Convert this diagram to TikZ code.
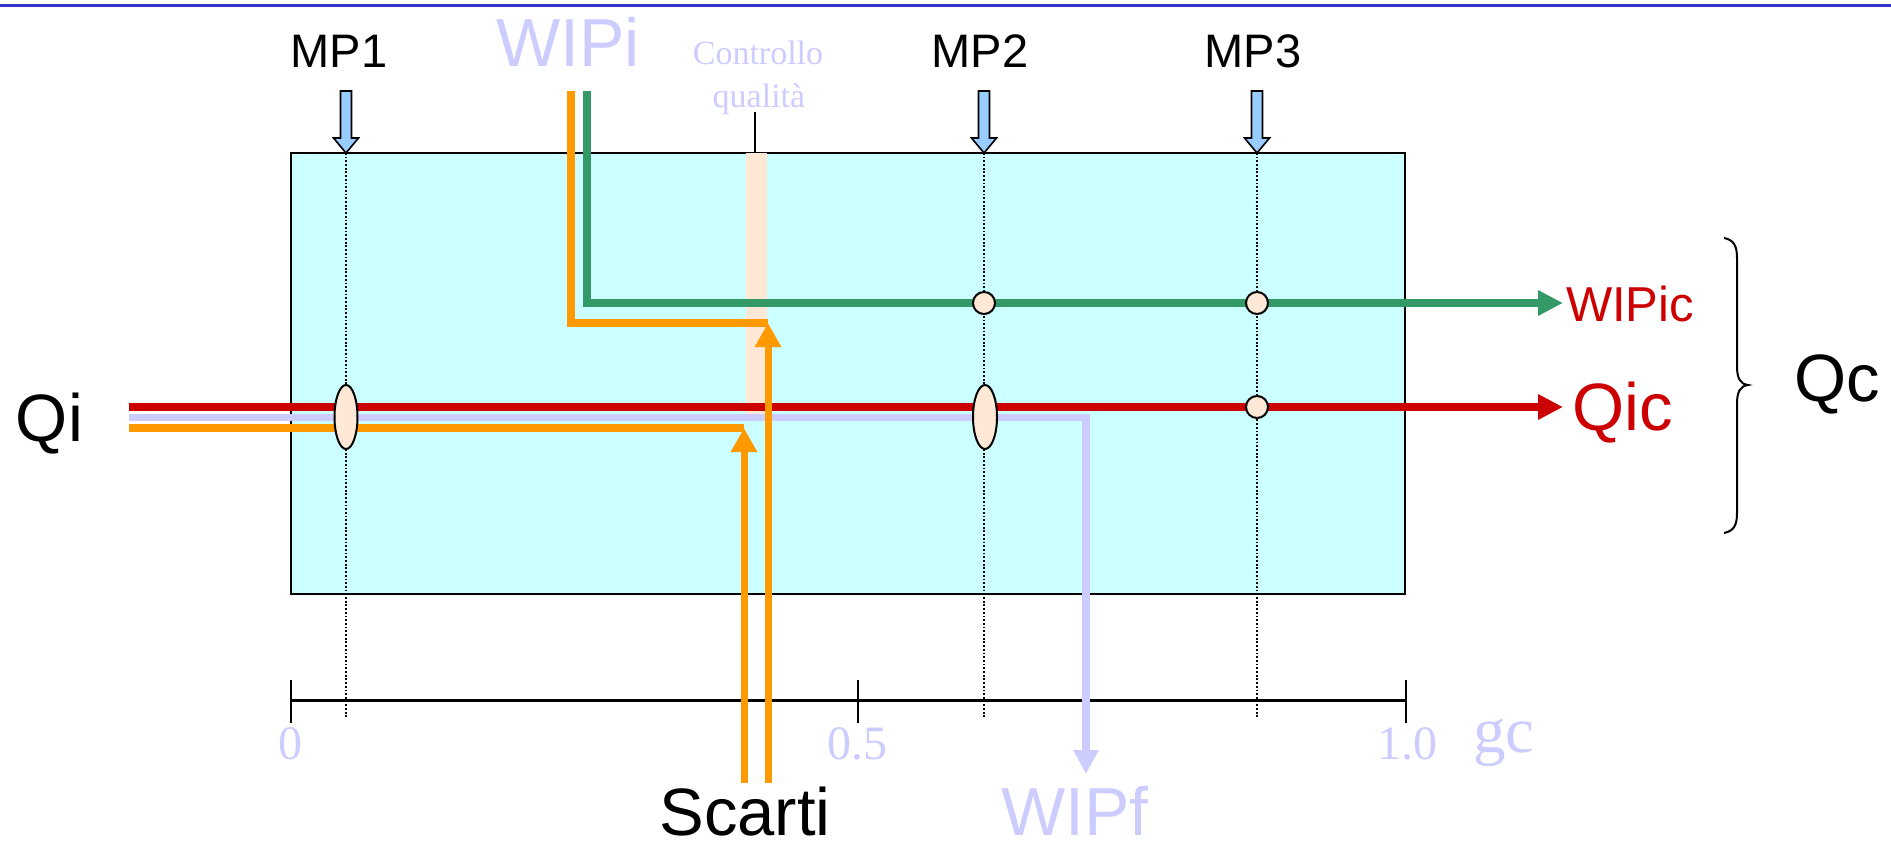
\documentclass[tikz,border=0pt]{standalone}
\usepackage{fontspec}
\setmainfont{Liberation Sans}
\newfontfamily\timesfont{Liberation Serif}
\usetikzlibrary{arrows.meta,shapes.geometric}

\definecolor{rulecol}{HTML}{3333CC}
\definecolor{boxcyan}{HTML}{CCFFFF}
\definecolor{peach}{HTML}{FFE9D6}
\definecolor{lav}{HTML}{CCCCFF}
\definecolor{flowred}{HTML}{CC0000}
\definecolor{flowgreen}{HTML}{339966}
\definecolor{floworange}{HTML}{FF9900}
\definecolor{mpblue}{HTML}{99CCFF}

\tikzset{
  mparrow/.pic={\draw[line width=1.6pt, fill=mpblue, line join=miter]
    (-5.5,0) -- (-5.5,47) -- (-12.5,47) -- (0,62) -- (12.5,47) -- (5.5,47) -- (5.5,0) -- cycle;}
}

\begin{document}
\begin{tikzpicture}[x=1pt,y=-1pt,
  flow/.style={line width=7.5pt, line join=miter},
  tipbig/.style={-{Triangle[length=25pt,width=24pt]}},
  dotline/.style={line width=1.8pt, dash pattern=on 1.8pt off 1.9pt},
  lbl/.style={inner sep=0pt, outer sep=0pt},
  bigtxt/.style={lbl, font=\fontsize{67pt}{80pt}\selectfont},
  mptxt/.style={lbl, font=\fontsize{47pt}{56pt}\selectfont, anchor=base},
  lavtxt/.style={lbl, text=lav, font=\fontsize{68pt}{80pt}\selectfont, anchor=base},
  numtxt/.style={lbl, text=lav, font=\timesfont\fontsize{48pt}{56pt}\selectfont, anchor=base},
  ctrltxt/.style={lbl, text=lav, font=\timesfont\fontsize{34pt}{40pt}\selectfont, anchor=base},
  station/.style={draw, line width=2pt, fill=peach, inner sep=0pt},
]
\useasboundingbox (0,0) rectangle (1891,848);

% header rule
\draw[rulecol, line width=3pt] (0,6) -- (1891,6);

% process box and quality-control band
\filldraw[fill=boxcyan, draw=black, line width=2pt] (291,153) rectangle (1405,594);
\fill[peach] (746,153) rectangle (767,417);

% measuring points: vertical dotted guides
\coordinate (mp1top) at (346,153); \coordinate (mp1bot) at (346,719);
\coordinate (mp2top) at (984,153); \coordinate (mp2bot) at (984,719);
\coordinate (mp3top) at (1257,153); \coordinate (mp3bot) at (1257,719);
\draw[dotline] (mp1top) -- (mp1bot);
\draw[dotline] (mp2top) -- (mp2bot);
\draw[dotline] (mp3top) -- (mp3bot);

% completion axis
\coordinate (ax0) at (291,700.5); \coordinate (ax5) at (858,700.5); \coordinate (ax1) at (1406,700.5);
\draw[line width=2.5pt] (ax0) -- (ax1);
\draw[line width=2pt] (291,680) -- (291,722.5);
\draw[line width=2pt] (858,680) -- (858,722.5);
\draw[line width=2pt] (1406,680) -- (1406,722.5);

% flow coordinates
\coordinate (redS) at (129,407);   \coordinate (redE) at (1563,407);
\coordinate (lavS) at (129,417.5); \coordinate (lavK) at (1086,417.5); \coordinate (lavE) at (1086,774);
\coordinate (orS) at (129,428);    \coordinate (orE) at (744,428);    \coordinate (orB) at (744,783);
\coordinate (wiT) at (571,91);     \coordinate (wiK) at (571,323);    \coordinate (wiE) at (768,323);
\coordinate (scB) at (768,783);
\coordinate (grT) at (587,91);     \coordinate (grK) at (587,303);    \coordinate (grE) at (1563,303);

% final WIP (lavender)
\draw[flow, lav, -{Triangle[length=24pt,width=24pt]}] (lavS) -- (lavK) -- (lavE);
% initial WIP split into green and orange
\draw[flow, floworange] (wiT) -- (wiK) -- (wiE);
\draw[flow, flowgreen, tipbig] (grT) -- (grK) -- (grE);
% input quantity
\draw[flow, floworange] (orS) -- (orE);
\draw[flow, flowred, tipbig] (redS) -- (redE);
% scrap arrows
\draw[flow, line width=7pt, floworange, -{Triangle[length=24pt,width=25pt]}] (orB) -- (orE);
\draw[flow, line width=7pt, floworange, -{Triangle[length=24pt,width=25pt]}] (scB) -- (wiE);

% stations on the flows
\node[station, ellipse, minimum width=23pt, minimum height=64pt] (e1) at (346,417) {};
\node[station, ellipse, minimum width=24pt, minimum height=64pt] (e2) at (985,417) {};
\node[station, circle, minimum size=22pt] (c2g) at (984,303) {};
\node[station, circle, minimum size=22pt] (c3g) at (1257,303) {};
\node[station, circle, minimum size=22pt] (c3r) at (1257,407) {};

% material input arrows
\pic at (346,91) {mparrow};
\pic at (984,91) {mparrow};
\pic at (1257,91) {mparrow};

% labels
\node[mptxt] (mp1) at (339,68) {MP1};
\node[mptxt] (mp2) at (980,68) {MP2};
\node[mptxt] (mp3) at (1253,68) {MP3};
\node[lavtxt] (wipi) at (568,66.5) {WIPi};
\node[ctrltxt] (ctrl1) at (758,65) {Controllo};
\node[ctrltxt] (ctrl2) at (759,108) {qualità};
\coordinate (ctrlfoot) at (755,153);
\draw[line width=2pt] (755,112.5) -- (ctrlfoot);

\node[bigtxt, anchor=base west] (qi) at (16,441) {Qi};
\node[lbl, anchor=base west, text=flowred, font=\fontsize{49pt}{58pt}\selectfont] (wipic) at (1566,321.5) {WIPic};
\node[bigtxt, anchor=base west, text=flowred] (qic) at (1572,430) {Qic};
\node[bigtxt, anchor=base west] (qc) at (1794,401.5) {Qc};
\node[bigtxt, anchor=base] (scarti) at (745,835) {Scarti};
\node[lavtxt] (wipf) at (1075,835) {WIPf};

\node[numtxt] (n0) at (290.5,759) {0};
\node[numtxt] (n05) at (857,759) {0.5};
\node[numtxt] (n1) at (1407.5,759) {1.0};
\node[lbl, text=lav, font=\timesfont\fontsize{65pt}{76pt}\selectfont, anchor=base] (gc) at (1504,752) {gc};

% brace grouping the two outputs
\draw[line width=2pt]
  (1724,238) .. controls (1734,240) and (1737,246) .. (1737,258)
  -- (1737,366) .. controls (1737,378) and (1740,384) .. (1748,385)
  .. controls (1740,386) and (1737,392) .. (1737,404)
  -- (1737,513) .. controls (1737,525) and (1734,531) .. (1724,533);
\end{tikzpicture}
\end{document}
